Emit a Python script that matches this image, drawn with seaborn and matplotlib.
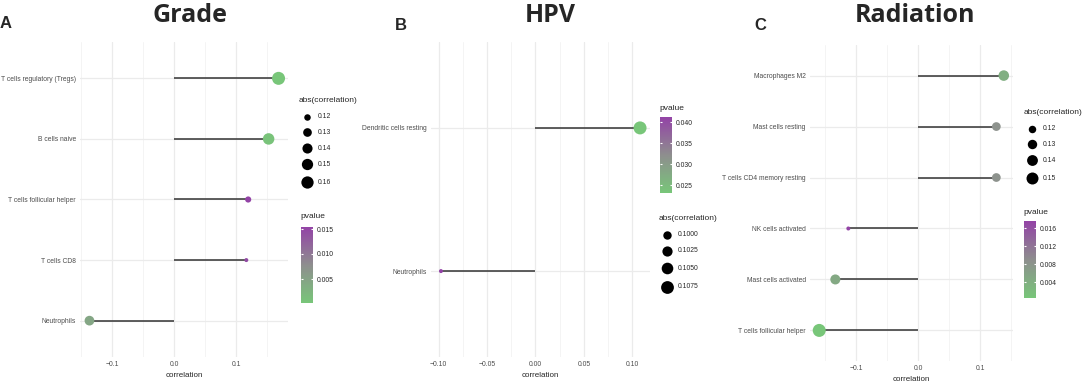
import matplotlib as mpl
import matplotlib.pyplot as plt
import seaborn as sns
import numpy as np
import pandas as pd

# ---- data ----
grade_cells = ['T cells regulatory (Tregs)', 'B cells naive', 'T cells follicular helper',
               'T cells CD8', 'Neutrophils']
grade_corr = [0.168, 0.152, 0.119, 0.116, -0.137]
grade_pval = [0.0002, 0.0006, 0.0154, 0.0146, 0.0045]
grade_size_breaks = [0.12, 0.13, 0.14, 0.15, 0.16]
grade_p_breaks = [0.005, 0.010, 0.015]

hpv_cells = ['Dendritic cells resting', 'Neutrophils']
hpv_corr = [0.108, -0.0975]
hpv_pval = [0.0232, 0.0412]
hpv_size_breaks = [0.1000, 0.1025, 0.1050, 0.1075]
hpv_p_breaks = [0.025, 0.030, 0.035, 0.040]

rad_cells = ['Macrophages M2', 'Mast cells resting', 'T cells CD4 memory resting',
             'NK cells activated', 'Mast cells activated', 'T cells follicular helper']
rad_corr = [0.138, 0.126, 0.126, -0.113, -0.134, -0.160]
rad_pval = [0.0040, 0.0085, 0.0085, 0.0176, 0.0050, 0.0005]
rad_size_breaks = [0.12, 0.13, 0.14, 0.15]
rad_p_breaks = [0.004, 0.008, 0.012, 0.016]

sns.set_style('white')
plt.rcParams['font.family'] = ['Liberation Sans', 'DejaVu Sans']

W, H = 1084, 387
TICK = 4.9    # tick / legend label size
LAB = 6.0     # axis + legend titles
cmap = mpl.colors.LinearSegmentedColormap.from_list('gp', ['#78C679', '#8E8E8E', '#9343A6'])


def area(v, lo, hi, dmin=4.0, dmax=13.0):
    # ggplot style: radius ~ sqrt of rescaled value, diameters in pixels -> points^2
    t = np.clip((v - lo) / (hi - lo), 0, 1)
    d = dmin + np.sqrt(t) * (dmax - dmin)
    return (d * 0.72) ** 2


def rect(x0, y0, x1, y1):
    return [x0 / W, 1 - y1 / H, (x1 - x0) / W, (y1 - y0) / H]


fig = plt.figure(figsize=(10.84, 3.87), dpi=100)
over = fig.add_axes([0, 0, 1, 1])
over.set_xlim(0, W)
over.set_ylim(H, 0)
over.set_axis_off()


def panel(cells, corr, pval, box, xticks, xfmt):
    df = pd.DataFrame({'cell': cells, 'corr': corr, 'pval': pval})
    df['abs'] = df['corr'].abs()
    n = len(df)
    df['y'] = n - 1 - np.arange(n)
    lo, hi = df['abs'].min(), df['abs'].max()
    norm = mpl.colors.Normalize(df['pval'].min(), df['pval'].max())

    ax = fig.add_axes(rect(*box))
    ax.hlines(df['y'], 0, df['corr'], color='#333333', lw=1.1, zorder=2)
    sns.scatterplot(data=df, x='corr', y='y', hue='pval', palette=cmap, hue_norm=norm,
                    size='abs', sizes={v: area(v, lo, hi) for v in df['abs']},
                    linewidth=0, legend=False, ax=ax, zorder=3)
    ax.set_yticks(df['y'])
    ax.set_yticklabels(df['cell'])
    ax.set_xticks(xticks)
    ax.set_xticklabels([xfmt.format(t).replace('-', '\u2212') for t in xticks])
    step = xticks[1] - xticks[0]
    minor = np.arange(xticks[0] - step / 2, xticks[-1] + step, step)
    ax.set_xticks(minor, minor=True)
    # limits last, so the tick calls cannot widen them (ggplot 5% expansion)
    xr = df['corr'].max() - df['corr'].min()
    ax.set_xlim(df['corr'].min() - 0.05 * xr, df['corr'].max() + 0.05 * xr)
    ax.set_ylim(-0.6, n - 0.4)
    ax.grid(True, which='major', color='#EBEBEB', lw=0.9)
    ax.grid(True, which='minor', axis='x', color='#F2F2F2', lw=0.6)
    ax.set_axisbelow(True)
    for s in ax.spines.values():
        s.set_visible(False)
    ax.tick_params(length=0, labelsize=TICK, labelcolor='#4D4D4D', pad=3)
    ax.set_xlabel('correlation', fontsize=5.8, labelpad=3)
    ax.set_ylabel('')
    return ax, lo, hi, norm


def size_legend(x, ytitle, rows, breaks, lo, hi, fmt):
    over.text(x, ytitle, 'abs(correlation)', fontsize=LAB, va='center', ha='left')
    for yy, b in zip(rows, breaks):
        over.scatter([x + 8], [yy], s=area(b, lo, hi), color='black', lw=0)
        over.text(x + 19, yy, fmt.format(b), fontsize=TICK, va='center', ha='left')


def p_legend(x, ytitle, y0, y1, norm, breaks):
    over.text(x, ytitle, 'pvalue', fontsize=LAB, va='center', ha='left')
    cax = fig.add_axes(rect(x + 1, y0, x + 13, y1))
    cb = fig.colorbar(mpl.cm.ScalarMappable(norm=norm, cmap=cmap), cax=cax)
    cb.outline.set_visible(False)
    cax.set_yticks(breaks)
    cax.set_yticklabels(['{:.3f}'.format(b) for b in breaks])
    cax.tick_params(length=0, labelsize=TICK, pad=3)
    cax.hlines(breaks, 0, 0.2, color='white', lw=0.8)
    cax.hlines(breaks, 0.8, 1, color='white', lw=0.8)


# A: Grade
axA, lo, hi, norm = panel(grade_cells, grade_corr, grade_pval, (80, 42, 288, 357),
                          [-0.1, 0.0, 0.1], '{:.1f}')
size_legend(299, 100, [117, 132, 148, 164, 182], grade_size_breaks, lo, hi, '{:.2f}')
p_legend(300, 217, 227, 303, norm, grade_p_breaks)

# B: HPV
axB, lo, hi, norm = panel(hpv_cells, hpv_corr, hpv_pval, (431, 42, 650, 357),
                          [-0.10, -0.05, 0.0, 0.05, 0.10], '{:.2f}')
p_legend(659, 108, 117, 193, norm, hpv_p_breaks)
size_legend(659, 219, [235, 251, 268, 287], hpv_size_breaks, lo, hi, '{:.4f}')

# C: Radiation
axC, lo, hi, norm = panel(rad_cells, rad_corr, rad_pval, (810, 45, 1013, 361),
                          [-0.1, 0.0, 0.1], '{:.1f}')
size_legend(1024, 112, [129, 144, 160, 178], rad_size_breaks, lo, hi, '{:.2f}')
p_legend(1023, 212, 221, 298, norm, rad_p_breaks)

# titles and panel letters
for x, t in [(190, 'Grade'), (550, 'HPV'), (915, 'Radiation')]:
    over.text(x, 16, t, fontsize=18, fontweight='bold', ha='center', va='center',
              family=['Open Sans', 'DejaVu Sans'])
for x, y, t in [(0, 24, 'A'), (395, 25, 'B'), (754, 25, 'C')]:
    over.text(x, y, t, fontsize=12, fontweight='bold', ha='left', va='center',
              family=['Liberation Sans', 'DejaVu Sans'])

fig.savefig('out.png', dpi=100)
